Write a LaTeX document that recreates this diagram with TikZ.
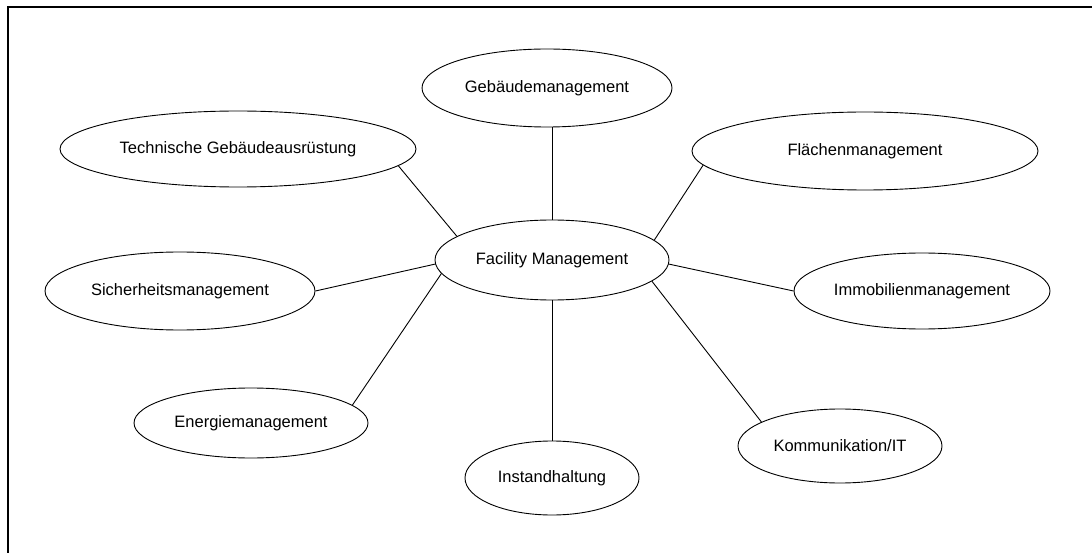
\documentclass[tikz,border=0pt]{standalone}
\usepackage{fontspec}
\setmainfont{Liberation Sans}
\usetikzlibrary{shapes.geometric}
\begin{document}
\begin{tikzpicture}[x=1pt,y=-1pt,
  topic/.style={ellipse,draw,line width=0.9pt,inner sep=0pt,fill=white,
    font=\fontsize{16.5}{18}\selectfont},
  link/.style={line width=0.9pt}]
\useasboundingbox (0,0) rectangle (1092,553);
% frame along the top and left edges
\draw[line width=2.4pt] (8,560) -- (8,7) -- (1100,7);

% central topic
\node[topic,minimum width=234pt,minimum height=80pt] (fm) at (552,260) {Facility Management};

% surrounding topics
\node[topic,minimum width=250pt,minimum height=78pt] (geb)  at (547,88)  {Gebäudemanagement};
\node[topic,minimum width=356pt,minimum height=76pt] (tga)  at (238,149) {Technische Gebäudeausrüstung};
\node[topic,minimum width=346pt,minimum height=78pt] (fla)  at (865,151) {Flächenmanagement};
\node[topic,minimum width=270pt,minimum height=78pt] (sich) at (180,291) {Sicherheitsmanagement};
\node[topic,minimum width=256pt,minimum height=76pt] (immo) at (922,291) {Immobilienmanagement};
\node[topic,minimum width=234pt,minimum height=70pt] (ener) at (251,423) {Energiemanagement};
\node[topic,minimum width=174pt,minimum height=74pt] (inst) at (552,478) {Instandhaltung};
\node[topic,minimum width=204pt,minimum height=74pt] (komm) at (840,446) {Kommunikation/IT};

% connectors
\draw[link] (fm.north)  -- (fm.north |- geb.south);
\draw[link] (fm.166)    -- (tga.-6);
\draw[link] (fm.11)     -- (fla.185);
\draw[link] (fm.182)    -- (sich.east);
\draw[link] (fm.-2)     -- (immo.west);
\draw[link] (fm.187)    -- (ener.10);
\draw[link] (fm.south)  -- (inst.north);
\draw[link] (fm.-12)    -- (komm.163);
\end{tikzpicture}
\end{document}
